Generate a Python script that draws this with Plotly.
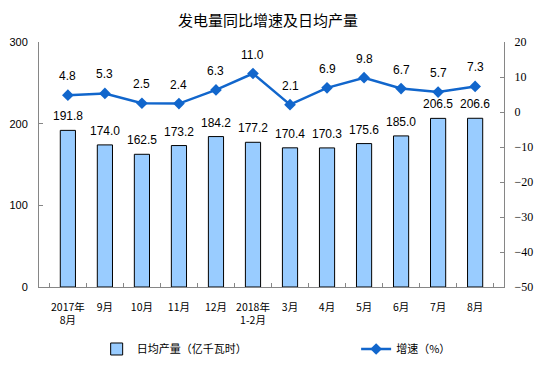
import plotly.graph_objects as go

categories = ["2017年<br>8月", "9月", "10月", "11月", "12月", "2018年<br>1-2月",
              "3月", "4月", "5月", "6月", "7月", "8月"]
daily_output = [191.8, 174.0, 162.5, 173.2, 184.2, 177.2, 170.4, 170.3, 175.6, 185.0, 206.5, 206.6]
growth = [4.8, 5.3, 2.5, 2.4, 6.3, 11.0, 2.1, 6.9, 9.8, 6.7, 5.7, 7.3]

bar_name = "日均产量（亿千瓦时）"
line_name = "增速（%）"
title = "发电量同比增速及日均产量"

cjk = "Noto Sans CJK SC"
sans = "Liberation Sans"
line_color = "#1166CC"
axis_color = "#868686"

fig = go.Figure()
fig.add_trace(go.Bar(
    x=categories, y=daily_output, name=bar_name,
    marker=dict(color="#99CCFF", line=dict(color="black", width=1)),
    yaxis="y", legend="legend",
))
fig.add_trace(go.Scatter(
    x=categories, y=growth, name=line_name, mode="lines+markers",
    line=dict(color=line_color, width=2.5),
    marker=dict(symbol="diamond", size=9, color=line_color),
    yaxis="y2", legend="legend2",
))

annotations = []
for c, v in zip(categories, daily_output):
    annotations.append(dict(x=c, y=v, xref="x", yref="y", text=f"{v:.1f}",
                            showarrow=False, yshift=14,
                            font=dict(family=sans, size=12, color="black")))
for c, v in zip(categories, growth):
    annotations.append(dict(x=c, y=v, xref="x", yref="y2", text=f"{v:.1f}",
                            showarrow=False, yshift=19,
                            font=dict(family=sans, size=12, color="black")))

legend_font = dict(family=cjk, size=11, color="black")
fig.update_layout(
    width=551, height=377,
    margin=dict(l=31, r=55, t=34, b=98, autoexpand=False),
    paper_bgcolor="white", plot_bgcolor="white",
    title=dict(text=title, x=0.472, xanchor="center", y=0.966, yanchor="middle",
               font=dict(family=cjk, size=15, color="black")),
    bargap=0.59,
    showlegend=True,
    legend=dict(orientation="h", x=0.124, xanchor="left", y=-0.253, yanchor="middle",
                font=legend_font, itemwidth=30),
    legend2=dict(orientation="h", x=0.682, xanchor="left", y=-0.253, yanchor="middle",
                 font=legend_font, itemwidth=30),
    xaxis=dict(type="category", tickson="boundaries", ticks="inside", ticklen=4,
               tickcolor=axis_color, showline=True, linecolor=axis_color, linewidth=1,
               showgrid=False, tickangle=0, automargin=False, ticklabelstandoff=10,
               tickfont=dict(family=cjk, size=10.5, color="black")),
    yaxis=dict(range=[0, 300], dtick=100, ticks="inside", ticklen=4,
               tickcolor=axis_color, showline=True, linecolor=axis_color,
               showgrid=False, zeroline=False, automargin=False, ticklabelstandoff=8,
               tickfont=dict(family=sans, size=11, color="black")),
    yaxis2=dict(range=[-50, 20], dtick=10, overlaying="y", side="right",
                ticks="inside", ticklen=4, tickcolor=axis_color, showline=True,
                linecolor=axis_color, showgrid=False, zeroline=False, automargin=False,
                ticklabelstandoff=7,
                tickfont=dict(family="Liberation Serif", size=12, color="black")),
    annotations=annotations,
)

fig.write_html("out.html")
